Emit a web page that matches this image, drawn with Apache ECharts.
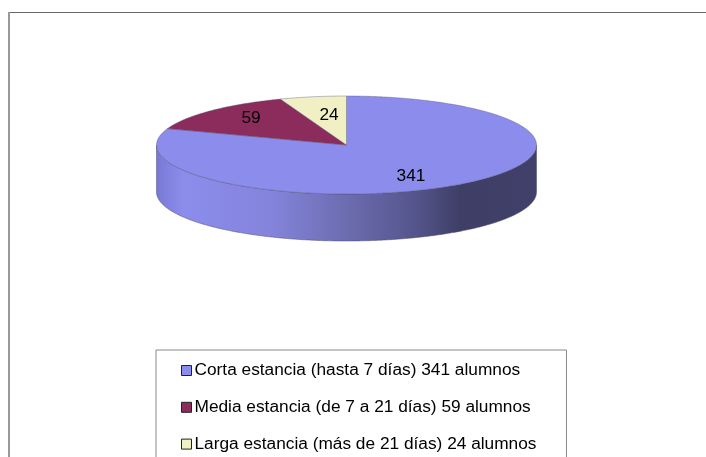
<!DOCTYPE html>
<html><head><meta charset="utf-8">
<style>html,body{margin:0;padding:0;background:#fff}#c{width:706px;height:457px}</style>
<script src="https://cdn.jsdelivr.net/npm/echarts@6/dist/echarts.min.js"></script>
</head><body><div id="c"></div>
<script>
const categories = ['Corta estancia (hasta 7 días) 341 alumnos','Media estancia (de 7 a 21 días) 59 alumnos','Larga estancia (más de 21 días) 24 alumnos'];
const values = [341, 59, 24];
const colors = ['#8c8cec', '#8c2c5c', '#f0f0c4'];

// layout of the tilted pie
const CX = 346.5, CY = 145, RX = 190, RY = 49, DEPTH = 47;
const LABEL_FRAC = [[0.588, 0.77], [0.705, 0.787], [0.52, 0.62]];
const total = values.reduce((a, b) => a + b, 0);
const px = a => CX + RX * Math.sin(a);
const py = a => CY - RY * Math.cos(a);
const sideGradient = {
  type: 'linear', x: 0, y: 0, x2: 1, y2: 0,
  colorStops: [
    {offset: 0, color: '#7878d4'}, {offset: 0.07, color: '#8c8cec'},
    {offset: 0.3, color: '#8484dc'}, {offset: 0.5, color: '#6c6cb0'},
    {offset: 0.68, color: '#55558c'}, {offset: 0.8, color: '#3e3e66'},
    {offset: 1, color: '#40406a'}
  ]
};
function renderSlice(index) {
  return function (params, api) {
    const v = api.value(0);
    const start = values.slice(0, index).reduce((a, b) => a + b, 0) / total * 2 * Math.PI;
    const end = start + v / total * 2 * Math.PI;
    const children = [];
    // front wall
    const a0 = Math.max(start, Math.PI / 2), a1 = Math.min(end, 3 * Math.PI / 2);
    if (a1 > a0) {
      const pts = [];
      for (let a = a0; a <= a1 + 1e-9; a += Math.PI / 360) pts.push([px(a), py(a)]);
      for (let a = a1; a >= a0 - 1e-9; a -= Math.PI / 360) pts.push([px(a), py(a) + DEPTH]);
      children.push({type: 'polygon', shape: {points: pts},
        style: {fill: sideGradient, stroke: '#4a4a70', lineWidth: 0.5}});
    }
    // top face
    const top = [[CX, CY]];
    const n = Math.ceil((end - start) / (Math.PI / 360));
    for (let i = 0; i <= n; i++) { const a = start + (end - start) * i / n; top.push([px(a), py(a)]); }
    children.push({type: 'polygon', shape: {points: top},
      style: {fill: colors[index], stroke: '#55557a', lineWidth: 0.4}});
    // value label
    const mid = (start + end) / 2;
    children.push({type: 'text', z2: 10, style: {
      x: CX + RX * Math.sin(mid) * LABEL_FRAC[index][0],
      y: CY - RY * Math.cos(mid) * LABEL_FRAC[index][1],
      text: String(v), fill: '#000', align: 'center', verticalAlign: 'middle',
      font: '17.3px "Liberation Sans", Arial, sans-serif'}});
    return {type: 'group', children};
  };
}
const chart = echarts.init(document.getElementById('c'), null, {renderer: 'canvas'});
chart.setOption({
  animation: false,
  backgroundColor: '#fff',
  graphic: [
    {type: 'line', shape: {x1: 8, y1: 12.5, x2: 706, y2: 12.5}, style: {stroke: '#666', lineWidth: 1}},
    {type: 'line', shape: {x1: 9, y1: 12, x2: 9, y2: 457}, style: {stroke: '#999', lineWidth: 2}}
  ],
  legend: {
    orient: 'vertical', left: 156, top: 350, height: 300, icon: 'rect',
    padding: [12, 30, 30, 25], itemWidth: 10, itemHeight: 10, itemGap: 19.8,
    backgroundColor: '#fff', borderColor: '#888', borderWidth: 1,
    itemStyle: {borderColor: '#222', borderWidth: 1},
    textStyle: {fontFamily: '"Liberation Sans", Arial, sans-serif', fontSize: 17.3, color: '#000', padding: [0, 0, 0, -2]},
    data: categories
  },
  series: categories.map((name, i) => ({
    type: 'custom', name, coordinateSystem: 'none',
    itemStyle: {color: colors[i]},
    silent: true,
    renderItem: renderSlice(i),
    data: [[values[i]]]
  }))
});
</script></body></html>
